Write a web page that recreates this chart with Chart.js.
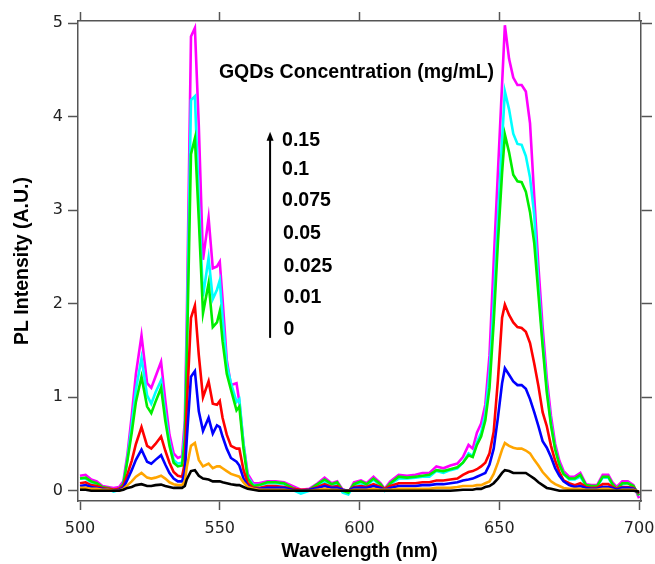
<!DOCTYPE html>
<html>
<head>
<meta charset="utf-8">
<script src="https://cdn.jsdelivr.net/npm/chart.js@4.4.1/dist/chart.umd.min.js"></script>
<style>
    html, body { margin: 0; padding: 0; background: #fff; }
    canvas { display: block; }
</style>
</head>
<body>
<canvas id="grafico" width="655" height="564"></canvas>
<script>
// Wavelength grid (nm), shared by every spectrum
const wavelengths = [
    500, 502, 504, 506, 508, 510, 512, 514, 515.5, 517,
    518.5, 520, 522, 524, 525.5, 527, 529, 530.5, 532, 533.5,
    535, 536.5, 537.5, 538.2, 539.7, 541.1, 542.5, 544, 546, 547.5,
    549, 550, 551, 552.5, 554, 556, 557, 558.5, 560, 562,
    564, 567, 570, 573, 576, 579, 582, 585, 587.5, 590,
    592, 594, 596, 598, 600.5, 602.5, 605, 607.5, 609, 611,
    614, 617, 620, 622.5, 625, 627.5, 630, 632.5, 635, 637,
    639, 640.5, 642, 643.5, 645, 646.5, 648, 649.5, 651, 652,
    653.5, 655, 656.5, 658, 659.5, 661, 662.5, 664, 665.5, 667,
    668.5, 670, 671.5, 673, 675, 677, 679, 681, 683, 685,
    687, 689, 690.5, 692, 694, 696, 698, 700
];

// PL intensity for each GQDs concentration (mg/mL)
const conc0 = [
    0.01, 0.01, 0.00, 0.00, 0.00, 0.00, 0.00, 0.00, 0.01, 0.03,
    0.04, 0.06, 0.07, 0.05, 0.05, 0.06, 0.065, 0.05, 0.04, 0.03,
    0.03, 0.03, 0.05, 0.12, 0.21, 0.22, 0.16, 0.13, 0.12, 0.10,
    0.10, 0.10, 0.09, 0.08, 0.07, 0.06, 0.06, 0.04, 0.02, 0.01,
    0, 0, 0, 0, 0, 0, 0, 0, 0, 0,
    0, 0, 0, 0, 0, 0, 0, 0, 0, 0,
    0, 0, 0, 0, 0, 0, 0, 0, 0.005, 0.01,
    0.01, 0.01, 0.02, 0.02, 0.04, 0.05, 0.08, 0.13, 0.19, 0.22,
    0.21, 0.19, 0.19, 0.19, 0.19, 0.16, 0.13, 0.09, 0.06, 0.03,
    0.02, 0.01, 0.00, 0, 0, 0, 0, 0, 0, 0,
    0, 0, 0, 0, 0, 0, 0, -0.01
];
const conc001 = [
    0.03, 0.03, 0.02, 0.02, 0.01, 0.01, 0.00, 0.00, 0.02, 0.06,
    0.10, 0.15, 0.19, 0.14, 0.13, 0.14, 0.16, 0.13, 0.09, 0.07,
    0.06, 0.06, 0.10, 0.25, 0.48, 0.51, 0.33, 0.26, 0.29, 0.24,
    0.26, 0.26, 0.24, 0.21, 0.18, 0.16, 0.15, 0.09, 0.04, 0.02,
    0.01, 0.01, 0.01, 0.01, 0.00, 0.00, 0.00, 0.01, 0.02, 0.01,
    0.01, 0.00, 0.00, 0.01, 0.01, 0.01, 0.02, 0.01, 0.01, 0.01,
    0.02, 0.02, 0.02, 0.02, 0.02, 0.03, 0.03, 0.03, 0.04, 0.05,
    0.05, 0.05, 0.06, 0.06, 0.08, 0.10, 0.18, 0.30, 0.44, 0.51,
    0.48, 0.46, 0.45, 0.45, 0.43, 0.40, 0.33, 0.27, 0.20, 0.15,
    0.10, 0.07, 0.05, 0.03, 0.02, 0.02, 0.02, 0.01, 0.01, 0.01,
    0.02, 0.02, 0.01, 0.00, 0.01, 0.01, 0.01, -0.01
];
const conc0025 = [
    0.05, 0.06, 0.04, 0.03, 0.02, 0.01, 0.00, 0.01, 0.03, 0.12,
    0.22, 0.33, 0.44, 0.31, 0.29, 0.33, 0.38, 0.28, 0.19, 0.13,
    0.10, 0.10, 0.20, 0.55, 1.22, 1.28, 0.85, 0.64, 0.78, 0.61,
    0.70, 0.68, 0.58, 0.45, 0.35, 0.31, 0.27, 0.13, 0.05, 0.02,
    0.02, 0.03, 0.03, 0.03, 0.01, 0.00, 0.01, 0.03, 0.05, 0.03,
    0.03, 0.01, 0.00, 0.03, 0.03, 0.03, 0.05, 0.03, 0.01, 0.03,
    0.05, 0.05, 0.05, 0.06, 0.06, 0.07, 0.07, 0.08, 0.09, 0.11,
    0.12, 0.13, 0.15, 0.17, 0.19, 0.28, 0.45, 0.78, 1.15, 1.31,
    1.24, 1.17, 1.13, 1.13, 1.09, 0.98, 0.84, 0.69, 0.53, 0.46,
    0.36, 0.24, 0.16, 0.10, 0.06, 0.04, 0.05, 0.03, 0.02, 0.02,
    0.04, 0.04, 0.03, 0.01, 0.03, 0.03, 0.02, -0.02
];
const conc005 = [
    0.08, 0.09, 0.06, 0.05, 0.03, 0.02, 0.01, 0.02, 0.05, 0.18,
    0.32, 0.50, 0.68, 0.48, 0.45, 0.50, 0.58, 0.43, 0.30, 0.20,
    0.16, 0.15, 0.30, 0.90, 1.85, 1.98, 1.45, 1.00, 1.17, 0.93,
    0.92, 0.96, 0.78, 0.60, 0.48, 0.45, 0.45, 0.22, 0.08, 0.03,
    0.03, 0.05, 0.05, 0.04, 0.02, 0.01, 0.01, 0.04, 0.07, 0.04,
    0.05, 0.01, 0.00, 0.04, 0.05, 0.04, 0.07, 0.04, 0.02, 0.05,
    0.08, 0.08, 0.08, 0.09, 0.09, 0.11, 0.11, 0.12, 0.13, 0.17,
    0.20, 0.21, 0.23, 0.26, 0.30, 0.40, 0.63, 1.18, 1.85, 1.99,
    1.88, 1.80, 1.75, 1.74, 1.70, 1.58, 1.36, 1.12, 0.84, 0.69,
    0.48, 0.32, 0.20, 0.11, 0.08, 0.06, 0.08, 0.04, 0.03, 0.03,
    0.07, 0.07, 0.04, 0.02, 0.04, 0.04, 0.03, -0.03
];
const conc0075 = [
    0.13, 0.14, 0.10, 0.08, 0.04, 0.03, 0.01, 0.02, 0.07, 0.33,
    0.62, 0.95, 1.22, 0.90, 0.83, 0.95, 1.10, 0.75, 0.48, 0.30,
    0.26, 0.27, 0.55, 1.40, 3.60, 3.77, 2.90, 1.90, 2.22, 1.75,
    1.80, 1.92, 1.60, 1.25, 1.08, 0.86, 0.90, 0.45, 0.13, 0.05,
    0.06, 0.09, 0.09, 0.08, 0.03, 0.00, 0.01, 0.07, 0.12, 0.07,
    0.09, 0.00, -0.02, 0.07, 0.10, 0.07, 0.13, 0.07, 0.01, 0.08,
    0.15, 0.14, 0.15, 0.16, 0.17, 0.22, 0.21, 0.23, 0.25, 0.30,
    0.38, 0.36, 0.49, 0.58, 0.75, 1.10, 1.80, 2.65, 3.40, 3.81,
    3.62, 3.38, 3.31, 3.30, 3.20, 2.98, 2.65, 2.10, 1.55, 1.05,
    0.70, 0.44, 0.28, 0.18, 0.13, 0.13, 0.17, 0.06, 0.05, 0.05,
    0.15, 0.15, 0.07, 0.02, 0.08, 0.08, 0.05, -0.05
];
const conc01 = [
    0.13, 0.13, 0.09, 0.07, 0.03, 0.02, -0.01, 0.01, 0.07, 0.35,
    0.70, 1.08, 1.42, 1.02, 0.93, 1.05, 1.18, 0.82, 0.52, 0.33,
    0.29, 0.30, 0.62, 1.60, 4.18, 4.22, 3.10, 2.08, 2.49, 2.05,
    2.15, 2.25, 1.85, 1.35, 1.15, 0.95, 0.98, 0.50, 0.15, 0.06,
    0.06, 0.08, 0.08, 0.07, 0.01, -0.03, 0.00, 0.06, 0.10, 0.05,
    0.07, -0.02, -0.04, 0.06, 0.08, 0.05, 0.12, 0.05, 0.00, 0.07,
    0.13, 0.13, 0.14, 0.15, 0.15, 0.21, 0.19, 0.22, 0.24, 0.30,
    0.40, 0.37, 0.52, 0.62, 0.82, 1.25, 2.00, 2.90, 3.75, 4.27,
    4.08, 3.82, 3.71, 3.70, 3.58, 3.35, 2.95, 2.20, 1.60, 1.10,
    0.72, 0.45, 0.28, 0.18, 0.12, 0.12, 0.15, 0.05, 0.04, 0.04,
    0.14, 0.14, 0.06, 0.01, 0.07, 0.08, 0.04, -0.05
];
const conc015 = [
    0.16, 0.17, 0.12, 0.10, 0.05, 0.04, 0.03, 0.04, 0.10, 0.40,
    0.80, 1.25, 1.66, 1.15, 1.10, 1.22, 1.38, 0.97, 0.60, 0.40,
    0.35, 0.37, 0.75, 1.83, 4.86, 4.95, 3.90, 2.47, 2.92, 2.38,
    2.40, 2.45, 2.05, 1.40, 1.13, 1.15, 0.95, 0.50, 0.18, 0.08,
    0.08, 0.10, 0.10, 0.09, 0.05, 0.01, 0.02, 0.08, 0.14, 0.08,
    0.10, 0.01, -0.02, 0.09, 0.11, 0.08, 0.15, 0.08, 0.02, 0.10,
    0.17, 0.16, 0.17, 0.19, 0.19, 0.26, 0.24, 0.27, 0.29, 0.36,
    0.49, 0.45, 0.62, 0.72, 0.92, 1.45, 2.45, 3.40, 4.35, 4.98,
    4.62, 4.42, 4.34, 4.34, 4.27, 3.93, 3.15, 2.40, 1.75, 1.20,
    0.80, 0.50, 0.32, 0.21, 0.15, 0.15, 0.19, 0.07, 0.06, 0.06,
    0.17, 0.17, 0.09, 0.04, 0.10, 0.10, 0.06, -0.08
];

const concentrations = ["0", "0.01", "0.025", "0.05", "0.075", "0.1", "0.15"];
const seriesValues = [conc0, conc001, conc0025, conc005, conc0075, conc01, conc015];
const seriesColors = ["#000000", "#ffa500", "#0000ff", "#ff0000", "#00ee00", "#00ffff", "#ff00ff"];

const xTicks = [500, 550, 600, 650, 700];
const yTicks = [0, 1, 2, 3, 4, 5];

const legendTitle = "GQDs Concentration (mg/mL)";

const boldFont = "'Liberation Sans', Arial, sans-serif";
const tickFont = "'DejaVu Sans', Verdana, sans-serif";
const axisGray = "#555555";

// no side padding for the first/last x tick label, so the frame matches the original
function noSidePadding(scale) {
    scale.paddingLeft = 0;
    scale.paddingRight = 0;
}

// Title, arrow and concentration labels drawn inside the plot
const annotations = {
    id: "annotations",
    afterDatasetsDraw(chart) {
        const { ctx, scales: { x, y } } = chart;
        ctx.save();
        ctx.fillStyle = "#000";
        ctx.strokeStyle = "#000";
        ctx.textBaseline = "middle";
        ctx.textAlign = "left";
        ctx.font = "bold 19.5px " + boldFont;
        ctx.fillText(legendTitle, x.getPixelForValue(549.7), y.getPixelForValue(4.47));

        // arrow
        const ax = x.getPixelForValue(568);
        const yBottom = y.getPixelForValue(1.635);
        const yTip = y.getPixelForValue(3.84);
        ctx.lineWidth = 2;
        ctx.beginPath();
        ctx.moveTo(ax, yBottom);
        ctx.lineTo(ax, yTip + 6);
        ctx.stroke();
        ctx.beginPath();
        ctx.moveTo(ax, yTip);
        ctx.lineTo(ax - 3.5, yTip + 9);
        ctx.lineTo(ax + 3.5, yTip + 9);
        ctx.closePath();
        ctx.fill();

        const labelY = [1.72, 2.07, 2.40, 2.75, 3.10, 3.43, 3.75];
        const labelX = [572.8, 572.8, 572.8, 572.6, 572.3, 572.3, 572.3];
        concentrations.forEach((c, i) => {
            ctx.fillText(c, x.getPixelForValue(labelX[i]), y.getPixelForValue(labelY[i]));
        });
        ctx.restore();
    }
};

const ctx = document.getElementById("grafico");

new Chart(ctx.getContext("2d"), {
    type: "line",
    data: {
        datasets: seriesValues.map((values, i) => ({
            label: concentrations[i],
            data: wavelengths.map((w, j) => ({ x: w, y: values[j] })),
            borderColor: seriesColors[i],
            backgroundColor: seriesColors[i],
            borderWidth: 2.6,
            pointRadius: 0,
            tension: 0,
            fill: false
        }))
    },
    options: {
        responsive: false,
        animation: false,
        layout: { padding: 0 },
        plugins: {
            legend: { display: false },
            tooltip: { enabled: false }
        },
        scales: {
            x: {
                type: "linear",
                position: "bottom",
                min: 499.28,
                max: 700.7,
                afterBuildTicks: (scale) => { scale.ticks = xTicks.map(v => ({ value: v })); },
                afterFit: (scale) => { scale.height = 63; noSidePadding(scale); },
                ticks: {
                    color: "#222",
                    padding: 9,
                    font: { family: tickFont, size: 16 },
                    maxRotation: 0
                },
                grid: {
                    drawOnChartArea: false,
                    drawTicks: true,
                    tickLength: 9,
                    tickColor: axisGray,
                    tickWidth: 1.5
                },
                border: { display: true, color: axisGray, width: 1.5 },
                title: {
                    display: true,
                    text: "Wavelength (nm)",
                    color: "#000",
                    font: { family: boldFont, size: 19.5, weight: "bold" },
                    padding: { top: 0, bottom: 0.5 }
                }
            },
            xTop: {
                type: "linear",
                position: "top",
                min: 499.28,
                max: 700.7,
                afterBuildTicks: (scale) => { scale.ticks = xTicks.map(v => ({ value: v })); },
                afterFit: (scale) => { scale.height = 21; noSidePadding(scale); },
                ticks: { display: false },
                grid: {
                    drawOnChartArea: false,
                    drawTicks: true,
                    tickLength: 9,
                    tickColor: axisGray,
                    tickWidth: 1.5
                },
                border: { display: true, color: axisGray, width: 1.5 }
            },
            y: {
                type: "linear",
                position: "left",
                min: -0.11,
                max: 5.025,
                afterBuildTicks: (scale) => { scale.ticks = yTicks.map(v => ({ value: v })); },
                afterFit: (scale) => { scale.width = 78; },
                ticks: {
                    color: "#222",
                    padding: 5,
                    font: { family: tickFont, size: 16 }
                },
                grid: {
                    drawOnChartArea: false,
                    drawTicks: true,
                    tickLength: 10,
                    tickColor: axisGray,
                    tickWidth: 1.5
                },
                border: { display: true, color: axisGray, width: 1.5 },
                title: {
                    display: true,
                    text: "PL Intensity (A.U.)",
                    color: "#000",
                    font: { family: boldFont, size: 19.5, weight: "bold" },
                    padding: { top: 11, bottom: 0 }
                }
            },
            yRight: {
                type: "linear",
                position: "right",
                min: -0.11,
                max: 5.025,
                afterBuildTicks: (scale) => { scale.ticks = yTicks.map(v => ({ value: v })); },
                afterFit: (scale) => { scale.width = 14; },
                ticks: { display: false },
                grid: {
                    drawOnChartArea: false,
                    drawTicks: true,
                    tickLength: 11,
                    tickColor: axisGray,
                    tickWidth: 1.5
                },
                border: { display: true, color: axisGray, width: 1.5 }
            }
        }
    },
    plugins: [annotations]
});
</script>
</body>
</html>
